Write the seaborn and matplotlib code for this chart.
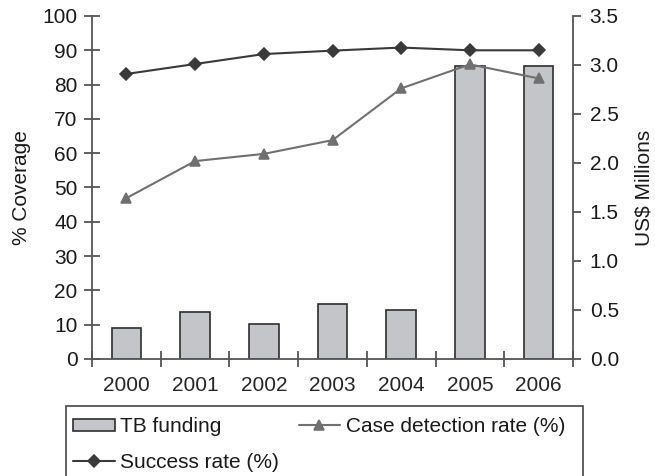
import matplotlib
matplotlib.use("Agg")
import matplotlib.pyplot as plt
import numpy as np
import pandas as pd
import seaborn as sns
from matplotlib.patches import Rectangle

YEARS = ["2000", "2001", "2002", "2003", "2004", "2005", "2006"]
TB_FUNDING = [0.32, 0.48, 0.36, 0.56, 0.50, 2.99, 2.99]  # US$ millions
SUCCESS_RATE = [83.1, 86.0, 88.9, 89.9, 90.8, 90.0, 90.0]
CASE_DETECTION = [46.9, 57.7, 59.8, 63.8, 78.9, 85.9, 81.8]

sns.set_style("ticks")
plt.rcParams['font.family'] = ["Liberation Sans", "DejaVu Sans"]
plt.rcParams['font.size'] = 15
TEXT = "#1a1a1a"
SPINE = "#555555"
FS = 15


def style_axis(ax):
    """Spines and tick colours like the scanned figure."""
    for side in ("left", "right", "bottom"):
        ax.spines[side].set_color(SPINE)
        ax.spines[side].set_linewidth(1.3)
    ax.spines["top"].set_visible(False)
    ax.tick_params(colors=SPINE, labelcolor=TEXT, labelsize=FS, width=1.3)


def main():
    df = pd.DataFrame({"year": YEARS, "funding": TB_FUNDING,
                       "success": SUCCESS_RATE, "detection": CASE_DETECTION})

    fig, ax = plt.subplots(figsize=(6.55, 4.76), dpi=100)
    fig.subplots_adjust(left=0.1405, right=0.8748, top=0.9664, bottom=0.2458)
    ax2 = ax.twinx()
    # bars behind the lines
    ax.set_zorder(2)
    ax2.set_zorder(1)
    ax.patch.set_visible(False)

    sns.barplot(x="year", y="funding", data=df, ax=ax2, color="#c4c5c9",
                saturation=1, width=0.43, edgecolor="#2e2e2e", linewidth=1.2,
                label="TB funding")
    sns.pointplot(x="year", y="success", data=df, ax=ax, color="#3a3a3a",
                  markers="D", errorbar=None, markersize=6.5, linewidth=1.5,
                  label="Success rate (%)")
    sns.pointplot(x="year", y="detection", data=df, ax=ax, color="#707070",
                  markers="^", errorbar=None, markersize=7.5, linewidth=1.5,
                  label="Case detection rate (%)")

    # grab handles, then drop the per-axes legends seaborn made
    h1, l1 = ax2.get_legend_handles_labels()
    h2, l2 = ax.get_legend_handles_labels()
    for a in (ax, ax2):
        if a.get_legend() is not None:
            a.get_legend().remove()

    # Left axis
    ax.set_ylim(0, 100)
    ax.set_yticks(np.arange(0, 101, 10))
    ax.set_ylabel("% Coverage", color=TEXT, fontsize=FS, labelpad=8)
    # Right axis
    ax2.set_ylim(0, 3.5)
    ax2.set_yticks(np.arange(0, 3.51, 0.5))
    ax2.set_yticklabels([f"{v:.1f}" for v in np.arange(0, 3.51, 0.5)])
    ax2.set_ylabel("US$ Millions", color=TEXT, fontsize=FS, labelpad=11)
    # Category axis: ticks between the years, labels under them
    ax.set_xlim(-0.5, len(YEARS) - 0.5)
    ax.set_xticks(np.arange(-0.5, len(YEARS), 1))
    ax.set_xticklabels([])
    ax.set_xticks(np.arange(len(YEARS)), minor=True)
    ax.set_xticklabels(YEARS, minor=True)
    ax.set_xlabel("")
    ax2.set_xlabel("")

    style_axis(ax)
    style_axis(ax2)
    ax.tick_params(axis="y", direction="inout", length=11, pad=5)
    ax.tick_params(axis="x", which="major", direction="inout", length=11)
    ax.tick_params(axis="x", which="minor", length=0, pad=12)
    ax2.tick_params(axis="y", direction="out", length=6, pad=6)
    ax2.spines["left"].set_visible(False)
    ax2.spines["bottom"].set_visible(False)
    ax.spines["right"].set_visible(False)

    # Legend below the plot, frame running off the page
    handles = [h1[0], h2[0], h2[1]]
    labels = [l1[0], l2[0], l2[1]]
    fig.legend(handles=handles, labels=labels, ncol=2, frameon=False,
               loc="upper left", bbox_to_anchor=(66 / 655, 1 - 410 / 476),
               borderaxespad=0, borderpad=0.34, handlelength=2.0,
               handleheight=0.5, handletextpad=0.25, columnspacing=0.95,
               labelspacing=0.8, fontsize=FS, labelcolor=TEXT)
    fig.add_artist(Rectangle((66 / 655, -0.05), (583 - 66) / 655,
                             1 - 406 / 476 + 0.05, transform=fig.transFigure,
                             fill=False, edgecolor="#444444", linewidth=1.2))

    fig.savefig("out.png", dpi=100)
    plt.close(fig)


if __name__ == '__main__':
    main()
